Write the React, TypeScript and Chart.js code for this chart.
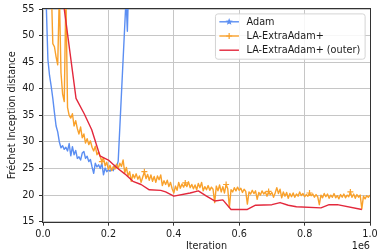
import React, { useEffect, useRef } from "react";
import { Chart, registerables } from "chart.js";

Chart.register(...registerables);

// ---------- data ----------
const seriesNames = ["Adam", "LA-ExtraAdam+", "LA-ExtraAdam+ (outer)"];
const seriesColors = ["#5b8ef2", "#f9a12b", "#e3283c"];

const xTickStep = 200000;
const xMin = 0;
const xMax = 1000000;
const yMin = 15;
const yMax = 55;
const yTickStep = 5;

const adamIters = [
  5000, 15000, 20000, 25000, 30000, 35000, 40000, 45000, 50000, 55000, 60000, 65000, 70000, 75000,
  80000, 85000, 90000, 95000, 100000, 105000, 110000, 115000, 120000, 125000, 130000, 135000, 140000,
  145000, 150000, 155000, 160000, 165000, 170000, 175000, 180000, 185000, 190000, 195000, 200000,
  205000, 210000, 215000, 220000, 225000, 230000, 254000, 258000, 263000,
];
const adamFid = [
  66, 45.5, 42.5, 40.5, 38.2, 35.5, 33.0, 31.9, 30.0, 28.9, 29.3, 28.6, 29.0, 28.3,
  29.7, 27.4, 29.1, 27.6, 28.4, 26.9, 27.2, 26.6, 27.9, 28.2, 26.9, 27.3, 26.3,
  26.7, 25.3, 24.1, 26.0, 25.3, 25.7, 25.0, 26.0, 23.8, 25.1, 24.4, 24.8,
  24.5, 25.0, 24.6, 25.6, 25.3, 26.4, 57, 50.8, 62,
];

// LA-ExtraAdam+ logged every 5000 iterations starting at 25000
const laIterStart = 25000;
const laIterStep = 5000;
const laFid = [
  60, 48.5, 47.9, 46.0, 44.5, 58, 43.0, 39.0, 37.6, 58, 36.5, 35.0, 34.5, 35.3, 33.0, 34.0,
  32.5, 31.5, 32.8, 30.8, 31.5, 29.8, 30.6, 29.5, 30.2, 29.0, 28.3, 29.2, 27.6, 28.1, 27.2,
  26.3, 27.0, 25.5, 26.2, 24.8, 25.6, 24.6, 25.4, 24.9, 25.8, 25.0, 26.0, 25.4, 26.6, 24.2,
  25.2, 23.6, 24.4, 22.6, 23.9, 23.2, 24.0, 23.0, 23.6, 22.4, 23.4, 24.4, 23.1, 23.9, 22.8,
  23.8, 22.6, 23.5, 22.4, 23.6, 22.9, 23.8, 21.8, 22.7, 22.0, 22.8, 21.6, 22.4, 21.2, 20.4,
  21.7, 20.9, 22.4, 21.3, 22.1, 21.5, 22.3, 21.6, 22.5, 21.4, 22.0, 21.2, 21.9, 21.0, 22.2,
  21.4, 22.4, 20.8, 21.6, 21.0, 21.8, 20.9, 21.5, 21.1, 18.6, 21.7, 20.8, 21.9, 20.6, 21.6,
  20.4, 22.0, 21.2, 17.7, 21.0, 20.6, 21.4, 20.8, 21.5, 20.9, 21.3, 20.5, 21.1, 20.7, 18.3,
  20.6, 20.2, 20.9, 20.3, 20.8, 19.2, 20.5, 20.0, 20.8, 20.2, 20.6, 19.8, 20.7, 20.1, 20.5,
  19.6, 20.4, 21.4, 20.3, 21.1, 19.5, 20.6, 19.8, 20.5, 19.4, 20.3, 19.7, 20.4, 19.6, 20.2,
  19.8, 20.6, 19.9, 20.3, 19.7, 20.1, 19.8, 20.4, 19.9, 20.2, 19.6, 20.1, 19.7, 18.2, 20.0,
  19.5, 20.3, 19.7, 20.2, 19.4, 20.0, 19.6, 20.3, 19.5, 19.9, 19.3, 20.1, 19.6, 20.2, 19.5,
  20.0, 19.7, 20.6, 19.6, 20.2, 19.4, 20.1, 19.6, 20.0, 17.4, 19.8, 19.3, 19.9, 19.6, 20.0,
];
const laMarkerIdx = [31, 57, 82, 107, 133, 158, 183];

const outerIters = [
  50000, 101000, 126000, 149000, 174000, 200000, 225000, 250000, 275000, 300000, 325000,
  360000, 375000, 400000, 450000, 475000, 500000, 525000, 550000, 575000, 625000, 650000,
  700000, 725000, 750000, 775000, 850000, 875000, 900000, 975000,
];
const outerFid = [
  62, 38.2, 35.3, 32.3, 27.4, 26.6, 25.2, 24.0, 22.6, 22.0, 21.0,
  20.9, 20.6, 19.8, 20.4, 20.8, 19.8, 18.9, 19.1, 17.3, 17.3, 18.1,
  18.2, 18.6, 18.1, 17.8, 17.6, 18.2, 18.2, 17.3,
];

// ---------- styling ----------
const FONT = "'DejaVu Sans', sans-serif";
const FS = 9.7;
const TEXT = "#1a1a1a";

function drawStar(ctx: CanvasRenderingContext2D, cx: number, cy: number, r: number, color: string) {
  ctx.beginPath();
  for (let i = 0; i < 10; i++) {
    const rr = i % 2 === 0 ? r : r * 0.42;
    const ang = -Math.PI / 2 + (i * Math.PI) / 5;
    const px = cx + rr * Math.cos(ang);
    const py = cy + rr * Math.sin(ang);
    if (i === 0) ctx.moveTo(px, py);
    else ctx.lineTo(px, py);
  }
  ctx.closePath();
  ctx.fillStyle = color;
  ctx.fill();
}

const decorPlugin = {
  id: "decor",
  afterDatasetsDraw(chart: any) {
    const { ctx, chartArea: a } = chart;
    ctx.save();
    // spines
    ctx.strokeStyle = "#333333";
    ctx.lineWidth = 1;
    ctx.strokeRect(Math.round(a.left) - 0.5, Math.round(a.top) - 0.5, Math.round(a.right) - Math.round(a.left) + 1, Math.round(a.bottom) - Math.round(a.top) + 1);

    // offset text
    ctx.font = `${FS}px ${FONT}`;
    ctx.fillStyle = TEXT;
    ctx.textAlign = "right";
    ctx.textBaseline = "middle";
    ctx.fillText("1e6", a.right, 246);

    // legend
    ctx.font = `${FS}px ${FONT}`;
    const pad = 3.9;
    const handleLen = 19.6;
    const textPad = 7.6;
    let maxW = 0;
    seriesNames.forEach((n) => (maxW = Math.max(maxW, ctx.measureText(n).width)));
    const boxW = pad + handleLen + textPad + maxW + pad + 1;
    const boxH = 45.3;
    const right = a.right - 4.9;
    const top = a.top + 4.9;
    const left = right - boxW;
    ctx.beginPath();
    ctx.roundRect(left, top, boxW, boxH, 2.5);
    ctx.fillStyle = "rgba(255,255,255,0.85)";
    ctx.fill();
    ctx.strokeStyle = "#d4d4d4";
    ctx.lineWidth = 1;
    ctx.stroke();

    seriesNames.forEach((name, i) => {
      const cy = top + 7.9 + i * 14.2;
      const x0 = left + pad;
      const x1 = x0 + handleLen;
      const color = seriesColors[i];
      ctx.beginPath();
      ctx.moveTo(x0, cy);
      ctx.lineTo(x1, cy);
      ctx.strokeStyle = color;
      ctx.lineWidth = 1.4;
      ctx.stroke();
      const mx = (x0 + x1) / 2;
      if (i === 0) drawStar(ctx, mx, cy, 3.8, color);
      if (i === 1) {
        ctx.beginPath();
        ctx.moveTo(mx - 3, cy);
        ctx.lineTo(mx + 3, cy);
        ctx.moveTo(mx, cy - 3);
        ctx.lineTo(mx, cy + 3);
        ctx.lineWidth = 1.2;
        ctx.stroke();
      }
      ctx.fillStyle = TEXT;
      ctx.textAlign = "left";
      ctx.textBaseline = "middle";
      ctx.fillText(name, x1 + textPad, cy + 0.5);
    });
    ctx.restore();
  },
};

export default function App() {
  const canvasRef = useRef<HTMLCanvasElement | null>(null);

  useEffect(() => {
    document.body.style.margin = "0";
    const canvas = canvasRef.current;
    if (!canvas) return;

    const adamData = adamIters.map((x, i) => ({ x, y: adamFid[i] }));
    const laData = laFid.map((y, i) => ({ x: laIterStart + i * laIterStep, y }));
    const outerData = outerIters.map((x, i) => ({ x, y: outerFid[i] }));
    const laRadius = laFid.map((_, i) => (laMarkerIdx.includes(i) ? 3 : 0));

    const lineCommon = {
      borderWidth: 1.4,
      tension: 0,
      fill: false,
      borderJoinStyle: "round" as const,
      borderCapStyle: "butt" as const,
      pointHoverRadius: 0,
    };

    const chart = new Chart(canvas, {
      type: "line",
      data: {
        datasets: [
          {
            ...lineCommon,
            label: seriesNames[0],
            data: adamData,
            borderColor: seriesColors[0],
            backgroundColor: seriesColors[0],
            pointRadius: 0,
            order: 3,
          },
          {
            ...lineCommon,
            label: seriesNames[1],
            data: laData,
            borderColor: seriesColors[1],
            backgroundColor: seriesColors[1],
            pointStyle: "cross",
            pointRadius: laRadius,
            pointBorderWidth: 1.2,
            pointBorderColor: seriesColors[1],
            order: 2,
          },
          {
            ...lineCommon,
            label: seriesNames[2],
            data: outerData,
            borderColor: seriesColors[2],
            backgroundColor: seriesColors[2],
            pointRadius: 0,
            order: 1,
          },
        ],
      },
      options: {
        responsive: false,
        animation: false,
        devicePixelRatio: 1,
        layout: { padding: { top: 9, right: 7, left: 0, bottom: 0 } },
        plugins: {
          legend: { display: false },
          tooltip: { enabled: false },
        },
        scales: {
          x: {
            type: "linear",
            min: xMin,
            max: xMax,
            border: { display: false },
            grid: {
              color: "#c6c6c6",
              lineWidth: 1,
              tickLength: 4,
              tickColor: "#333333",
              drawTicks: true,
            },
            ticks: {
              stepSize: xTickStep,
              autoSkip: false,
              maxRotation: 0,
              padding: 3,
              color: TEXT,
              font: { family: FONT, size: FS },
              callback: (v: any) => (Number(v) / 1e6).toFixed(1),
            },
            title: {
              display: true,
              text: "Iteration",
              color: TEXT,
              font: { family: FONT, size: FS },
              padding: { top: 0, bottom: 0 },
            },
            afterFit: (s: any) => {
              s.height = 30.3;
              s.paddingLeft = 0;
              s.paddingRight = 0;
            },
          },
          y: {
            type: "linear",
            min: yMin,
            max: yMax,
            border: { display: false },
            grid: {
              color: "#c6c6c6",
              lineWidth: 1,
              tickLength: 4,
              tickColor: "#333333",
              drawTicks: true,
            },
            ticks: {
              stepSize: yTickStep,
              autoSkip: false,
              padding: 4.5,
              color: TEXT,
              font: { family: FONT, size: FS },
            },
            title: {
              display: true,
              text: "Fréchet Inception distance",
              color: TEXT,
              font: { family: FONT, size: FS },
              padding: { top: 7, bottom: 0 },
            },
            afterFit: (s: any) => {
              s.width = 43;
              s.paddingTop = 0;
              s.paddingBottom = 0;
            },
          },
        },
      },
      plugins: [decorPlugin],
    });

    return () => chart.destroy();
  }, []);

  return (
    <div style={{ position: "absolute", left: 0, top: 0, width: 377, height: 252, background: "#fff" }}>
      <canvas ref={canvasRef} width={377} height={252} style={{ display: "block" }} />
    </div>
  );
}
